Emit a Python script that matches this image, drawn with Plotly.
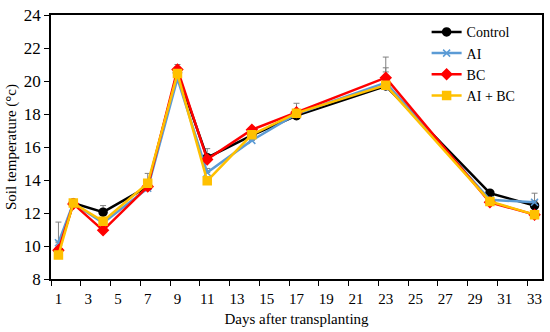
import plotly.graph_objects as go

days = [1, 2, 4, 7, 9, 11, 14, 17, 23, 30, 33]

control = [9.7, 12.6, 12.05, 13.6, 20.5, 15.35, 16.7, 17.9, 19.7, 13.2, 12.45]
control_err = [1.75, 0.2, 0.4, 0.8, 0.5, 0.55, 0.2, 0.75, 1.75, 0.15, 0.75]

ai = [10.2, 12.6, 11.4, 13.5, 20.15, 14.45, 16.4, 18.0, 19.9, 12.8, 12.65]
ai_err = [0.1, 0.1, 0.1, 0.1, 0.1, 0.25, 0.1, 0.1, 0.9, 0.1, 0.1]

bc = [9.75, 12.55, 10.95, 13.6, 20.7, 15.25, 17.05, 18.1, 20.2, 12.65, 11.9]
bc_err = [0.1, 0.1, 0.1, 0.1, 0.1, 0.2, 0.1, 0.1, 0.35, 0.1, 0.1]

aibc = [9.45, 12.6, 11.5, 13.8, 20.45, 13.95, 16.75, 18.05, 19.75, 12.7, 11.9]
aibc_err = [0.1, 0.1, 0.1, 0.1, 0.1, 0.1, 0.1, 0.1, 0.1, 0.1, 0.1]

xtick_vals = list(range(1, 34, 2))
ytick_vals = list(range(8, 25, 2))

FONT = "Liberation Serif, Times New Roman, DejaVu Serif, serif"

series = [
    ("Control", control, control_err, "#000000", "circle", 8),
    ("AI", ai, ai_err, "#5B9BD5", "x-thin-open", 7),
    ("BC", bc, bc_err, "#FF0000", "diamond", 8),
    ("AI + BC", aibc, aibc_err, "#FFC000", "square", 8),
]

fig = go.Figure()
for name, vals, err, col, sym, size in series:
    fig.add_trace(go.Scatter(
        x=days, y=vals, name=name, mode="lines+markers",
        line=dict(color=col, width=2.5),
        marker=dict(color=col, symbol=sym, size=size,
                    line=dict(color=col, width=1.5)),
        error_y=dict(type="data", symmetric=False, array=err,
                     arrayminus=[0] * len(err), color="#808080",
                     thickness=1, width=3),
    ))

fig.update_layout(
    width=550, height=332,
    margin=dict(l=51, r=6, t=10, b=53),
    plot_bgcolor="white", paper_bgcolor="white",
    font=dict(family=FONT, size=15, color="black"),
    showlegend=True,
    legend=dict(x=0.765, y=0.995, xanchor="left", yanchor="top",
                bgcolor="rgba(0,0,0,0)", font=dict(family=FONT, size=14),
                tracegroupgap=0, itemwidth=30),
    xaxis=dict(
        range=[0.5, 33.5], tickvals=xtick_vals, ticktext=[str(v) for v in xtick_vals],
        ticks="outside", ticklen=5, tickcolor="rgba(0,0,0,0)",
        minor=dict(ticks="outside", ticklen=5, tickcolor="black", tickwidth=1,
                   tick0=0.5, dtick=2),
        showline=True, linecolor="black", linewidth=1.5, mirror=True,
        showgrid=False, zeroline=False,
        title=dict(text="Days after transplanting", standoff=8,
                   font=dict(family=FONT, size=15)),
        tickfont=dict(family=FONT, size=15),
    ),
    yaxis=dict(
        range=[8, 24], tickvals=ytick_vals,
        ticks="outside", ticklen=5, tickcolor="black", tickwidth=1,
        showline=True, linecolor="black", linewidth=1.5, mirror=True,
        showgrid=False, zeroline=False,
        title=dict(text="Soil temperature (°c)", standoff=4,
                   font=dict(family=FONT, size=15)),
        tickfont=dict(family=FONT, size=17),
    ),
)

fig.write_html("out.html", config={"displayModeBar": False},
               post_script="document.body.style.margin='0';document.body.style.padding='0';")
